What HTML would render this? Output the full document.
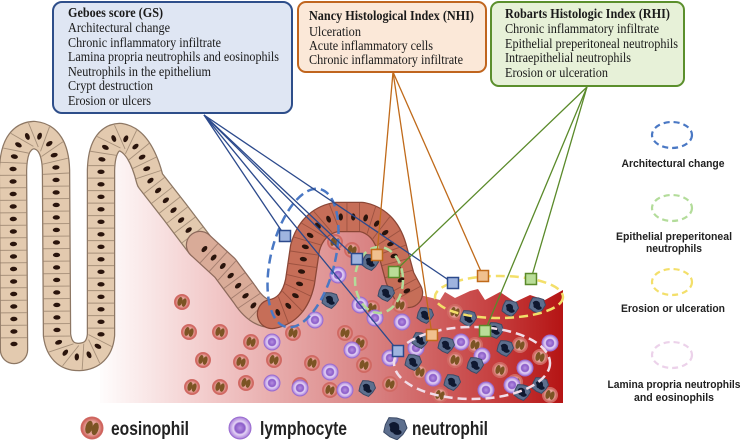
<!DOCTYPE html>
<html><head><meta charset="utf-8"><style>
html,body{margin:0;padding:0;background:#fff;width:742px;height:440px;overflow:hidden}
svg{display:block}
.s{font-family:"Liberation Serif",serif;font-size:14px;fill:#1a1a1a}
.b{font-weight:bold}
.l{font-family:"Liberation Sans",sans-serif;font-size:11px;font-weight:bold;fill:#222}
.g{font-family:"Liberation Sans",sans-serif;font-size:19px;font-weight:bold;fill:#222}
</style></head><body>
<svg id="sv" width="742" height="440" viewBox="0 0 742 440" xmlns="http://www.w3.org/2000/svg">
<defs>
<linearGradient id="tis" x1="95" y1="0" x2="563" y2="0" gradientUnits="userSpaceOnUse">
<stop offset="0" stop-color="#ffffff"/><stop offset="0.25" stop-color="#f2c9c9"/>
<stop offset="0.6" stop-color="#d88080"/><stop offset="0.85" stop-color="#c64040"/><stop offset="1" stop-color="#b51414"/>
</linearGradient>
<radialGradient id="eo" cx="0.5" cy="0.5" r="0.5"><stop offset="0.6" stop-color="#e6a49c"/><stop offset="1" stop-color="#c9524c"/></radialGradient>
<radialGradient id="ly" cx="0.5" cy="0.5" r="0.5"><stop offset="0" stop-color="#b48ee0"/><stop offset="0.45" stop-color="#8b5cc9"/><stop offset="0.6" stop-color="#e6d6f6"/><stop offset="1" stop-color="#a57ad8"/></radialGradient>
</defs>
<path d="M100,150 L140,150 L175,215 L225,270 L265,315 L292,305 L300,260 L312,225 L340,215 L375,225 L395,258 L408,292 L440,300 L445,292 L455,298 L470,291 L478,289 L485,300 L500,292 L515,302 L530,295 L545,300 L563,290 L563,403 L100,403 Z" fill="url(#tis)"/>
<g id="ep"></g>
<g id="cells"></g>
<g fill="none" stroke-width="2.5" stroke-dasharray="9,5">
<ellipse cx="303" cy="258" rx="32" ry="71" transform="rotate(14 303 258)" stroke="#4a78c4"/>
<ellipse cx="379" cy="280" rx="24" ry="33" stroke="#b3dc9a"/>
<ellipse cx="499" cy="297" rx="64" ry="21" stroke="#f3df6a"/>
<ellipse cx="472" cy="363" rx="78" ry="36" stroke="#f1dde8"/>
</g>
<g stroke-width="1.3" fill="none">
<g stroke="#2c4a8c"><line x1="204" y1="115" x2="285" y2="236"/><line x1="204" y1="115" x2="357" y2="259"/><line x1="204" y1="115" x2="453" y2="283"/><line x1="204" y1="115" x2="398" y2="351"/><line x1="204" y1="115" x2="340" y2="250"/></g>
<g stroke="#c06a1a"><line x1="393" y1="72" x2="377" y2="255"/><line x1="393" y1="72" x2="432" y2="335"/><line x1="393" y1="72" x2="483" y2="276"/></g>
<g stroke="#5a8a2a"><line x1="587" y1="87" x2="394" y2="272"/><line x1="587" y1="87" x2="485" y2="331"/><line x1="587" y1="87" x2="531" y2="279"/></g>
</g>
<g stroke-width="1.5">
<g fill="#9fb4df" stroke="#2c4a8c"><rect x="279.5" y="230.5" width="11" height="11"/><rect x="351.5" y="253.5" width="11" height="11"/><rect x="447.5" y="277.5" width="11" height="11"/><rect x="392.5" y="345.5" width="11" height="11"/></g>
<g fill="#f0c08e" stroke="#c06a1a"><rect x="371.5" y="249.5" width="11" height="11"/><rect x="426.5" y="329.5" width="11" height="11"/><rect x="477.5" y="270.5" width="11" height="11"/></g>
<g fill="#b9dd98" stroke="#5a8a2a"><rect x="388.5" y="266.5" width="11" height="11"/><rect x="479.5" y="325.5" width="11" height="11"/><rect x="525.5" y="273.5" width="11" height="11"/></g>
</g>
<rect x="53" y="2" width="239" height="111" rx="9" fill="#dfe6f3" stroke="#2e4e8a" stroke-width="2"/>
<rect x="298" y="2" width="188" height="70" rx="8" fill="#fbe8d8" stroke="#c0651e" stroke-width="2"/>
<rect x="491" y="2" width="193" height="84" rx="8" fill="#e7f1d8" stroke="#5b8f2c" stroke-width="2"/>
<text class="s b" x="68" y="17" textLength="95" lengthAdjust="spacingAndGlyphs">Geboes score (GS)</text>
<text class="s" x="68" y="32" textLength="102" lengthAdjust="spacingAndGlyphs">Architectural change</text>
<text class="s" x="68" y="47" textLength="153" lengthAdjust="spacingAndGlyphs">Chronic inflammatory infiltrate</text>
<text class="s" x="68" y="61" textLength="211" lengthAdjust="spacingAndGlyphs">Lamina propria neutrophils and eosinophils</text>
<text class="s" x="68" y="76" textLength="143" lengthAdjust="spacingAndGlyphs">Neutrophils in the epithelium</text>
<text class="s" x="68" y="90" textLength="85" lengthAdjust="spacingAndGlyphs">Crypt destruction</text>
<text class="s" x="68" y="105" textLength="83" lengthAdjust="spacingAndGlyphs">Erosion or ulcers</text>
<text class="s b" x="309" y="20" textLength="165" lengthAdjust="spacingAndGlyphs">Nancy Histological Index (NHI)</text>
<text class="s" x="309" y="36" textLength="52" lengthAdjust="spacingAndGlyphs">Ulceration</text>
<text class="s" x="309" y="50" textLength="124" lengthAdjust="spacingAndGlyphs">Acute inflammatory cells</text>
<text class="s" x="309" y="64" textLength="154" lengthAdjust="spacingAndGlyphs">Chronic inflammatory infiltrate</text>
<text class="s b" x="505" y="18" textLength="165" lengthAdjust="spacingAndGlyphs">Robarts Histologic Index (RHI)</text>
<text class="s" x="505" y="33" textLength="154" lengthAdjust="spacingAndGlyphs">Chronic inflammatory infiltrate</text>
<text class="s" x="505" y="48" textLength="173" lengthAdjust="spacingAndGlyphs">Epithelial preperitoneal neutrophils</text>
<text class="s" x="505" y="62" textLength="126" lengthAdjust="spacingAndGlyphs">Intraepithelial neutrophils</text>
<text class="s" x="505" y="77" textLength="103" lengthAdjust="spacingAndGlyphs">Erosion or ulceration</text>
<g fill="none" stroke-width="2.2" stroke-dasharray="6,4">
<ellipse cx="672" cy="135" rx="20" ry="13" stroke="#4a78c4"/>
<ellipse cx="672" cy="208" rx="20" ry="13" stroke="#b3dc9a"/>
<ellipse cx="672" cy="282" rx="20" ry="13" stroke="#f3df6a"/>
<ellipse cx="672" cy="355" rx="20" ry="13" stroke="#ecd2ea"/>
</g>
<g text-anchor="middle">
<text class="l" x="673" y="167" textLength="103" lengthAdjust="spacingAndGlyphs">Architectural change</text>
<text class="l" x="674" y="240" textLength="116" lengthAdjust="spacingAndGlyphs">Epithelial preperitoneal</text>
<text class="l" x="674" y="252" textLength="56" lengthAdjust="spacingAndGlyphs">neutrophils</text>
<text class="l" x="673" y="312" textLength="104" lengthAdjust="spacingAndGlyphs">Erosion or ulceration</text>
<text class="l" x="674" y="388" textLength="133" lengthAdjust="spacingAndGlyphs">Lamina propria neutrophils</text>
<text class="l" x="674" y="401" textLength="80" lengthAdjust="spacingAndGlyphs">and eosinophils</text>
</g>
<g id="leg"></g>
<text class="g" x="111" y="435" textLength="78" lengthAdjust="spacingAndGlyphs">eosinophil</text>
<text class="g" x="260" y="435" textLength="87" lengthAdjust="spacingAndGlyphs">lymphocyte</text>
<text class="g" x="412" y="435" textLength="76" lengthAdjust="spacingAndGlyphs">neutrophil</text>
</svg>
<script>
var NS="http://www.w3.org/2000/svg";
function el(t,a,p){var e=document.createElementNS(NS,t);for(var k in a)e.setAttribute(k,a[k]);p.appendChild(e);return e;}
var ep=document.getElementById('ep');
function ribbon(d,fill,w,line){
 var p=el('path',{d:d,fill:'none',stroke:line,'stroke-width':w+2.5,'stroke-linecap':'round','stroke-linejoin':'round'},ep);
 el('path',{d:d,fill:'none',stroke:fill,'stroke-width':w,'stroke-linecap':'round','stroke-linejoin':'round'},ep);
 var L=p.getTotalLength();
 for(var s=6;s<L;s+=12.5){
  var a=p.getPointAtLength(s),b=p.getPointAtLength(Math.min(L,s+0.5));
  var dx=b.x-a.x,dy=b.y-a.y,n=Math.hypot(dx,dy)||1;dx/=n;dy/=n;
  var nx=-dy,ny=dx,h=w/2;
  var ang=Math.atan2(ny,nx)*180/Math.PI;
  el('ellipse',{cx:a.x,cy:a.y,rx:3.6,ry:2.2,fill:'#2a140c',transform:'rotate('+ang+' '+a.x+' '+a.y+')'},ep);
  var c=p.getPointAtLength(Math.min(L,s+6.2));
  el('line',{x1:c.x+nx*h,y1:c.y+ny*h,x2:c.x-nx*h,y2:c.y-ny*h,stroke:line,'stroke-width':0.9,'stroke-opacity':0.7},ep);
 }
}
ribbon("M14,350 L13,170 Q14,136 34,135 Q55,137 56,170 L57,335 Q60,357 79,357 Q99,356 101,335 L101,170 Q102,138 120,137 Q140,140 150,180 L175,212 L200,245",'#e3caaf',26,'#8d7764');
ribbon("M200,245 L225,268 L245,295 Q258,315 274,314",'#d9ab98',26,'#8d6a5c');
ribbon("M272,314 Q294,310 300,282 L305,248 Q312,222 336,217 L362,217 Q386,222 393,252 L400,278 L408,293",'#c66e58',28,'#8a4636');
var cg=document.getElementById('cells');
function eos(x,y,r,g){g=g||cg;el('circle',{cx:x,cy:y,r:r,fill:'url(#eo)',stroke:'#d06a64','stroke-width':1},g);
 el('ellipse',{cx:x-r*0.28,cy:y,rx:r*0.32,ry:r*0.6,fill:'#7c5424',transform:'rotate(15 '+x+' '+y+')'},g);
 el('ellipse',{cx:x+r*0.3,cy:y,rx:r*0.3,ry:r*0.58,fill:'#7c5424',transform:'rotate(15 '+x+' '+y+')'},g);}
function lym(x,y,r,g){g=g||cg;el('circle',{cx:x,cy:y,r:r,fill:'url(#ly)',stroke:'#9a6cd0','stroke-width':1},g);}
function neu(x,y,r,g){g=g||cg;var pts=[];for(var i=0;i<9;i++){var a=i*Math.PI*2/9,rr=r*(i%2?0.85:1);pts.push((x+rr*Math.cos(a)).toFixed(1)+','+(y+rr*Math.sin(a)).toFixed(1));}
 el('polygon',{points:pts.join(' '),fill:'#5d6f8e',stroke:'#3b4a66','stroke-width':1},g);
 el('path',{d:'M'+(x-r*0.5)+','+(y-r*0.3)+' q'+r*0.4+','+(-r*0.4)+' '+r*0.8+',0 q'+r*0.2+','+r*0.6+' -'+r*0.3+','+r*0.7+' q-'+r*0.5+',0 -'+r*0.4+','+(-r*0.4)+'z',fill:'#0f1830'},g);
 el('ellipse',{cx:x+r*0.2,cy:y+r*0.35,rx:r*0.35,ry:r*0.22,fill:'#0f1830'},g);}
var E=[[182,302],[189,332],[220,332],[251,342],[203,360],[241,362],[274,360],[293,333],[192,387],[220,387],[246,383],[312,363],[360,343],[364,365],[345,333],[330,390],[300,385],[420,372],[455,360],[520,345],[540,357],[515,382],[440,395],[372,308],[335,242],[352,250],[400,305],[455,312],[475,345],[500,370],[550,395],[390,384]];
E.forEach(function(p){eos(p[0],p[1],7.5);});
var Ly=[[338,275],[360,305],[315,320],[272,342],[272,383],[300,388],[330,372],[345,390],[352,350],[375,318],[402,322],[390,358],[433,378],[461,342],[482,356],[512,385],[550,343],[525,368],[486,390],[416,348]];
Ly.forEach(function(p){lym(p[0],p[1],8);});
var N=[[370,262],[386,293],[330,300],[425,315],[468,318],[510,308],[537,305],[420,340],[446,345],[413,362],[475,365],[505,348],[540,385],[367,388],[522,392],[495,330],[452,382]];
N.forEach(function(p){neu(p[0],p[1],8.5);});
var lg=document.getElementById('leg');
eos(92,428,11,lg);lym(240,428,11,lg);neu(395,428,12,lg);
</script>
</body></html>
